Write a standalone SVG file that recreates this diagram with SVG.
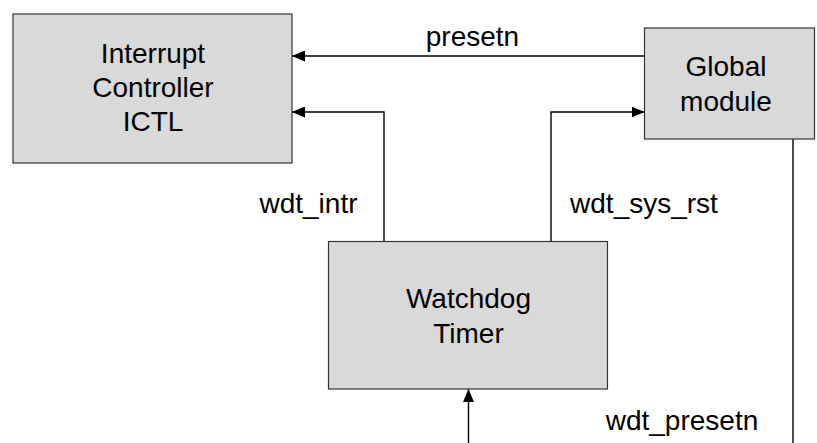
<svg xmlns="http://www.w3.org/2000/svg" width="817" height="443" viewBox="0 0 817 443">
  <defs>
    <marker id="arrow" viewBox="0 0 13 11" refX="13" refY="5.5" markerWidth="13" markerHeight="11" markerUnits="userSpaceOnUse" orient="auto">
      <path d="M0,0 L13,5.5 L0,11 Z" fill="#000"/>
    </marker>
    <style>
      .box { fill: #d9d9d9; stroke: #333; stroke-width: 1.2; }
      .lbl { font-family: "Liberation Sans", Arial, sans-serif; font-size: 28px; fill: #000; text-anchor: middle; }
      .edge { fill: none; stroke: #000; stroke-width: 1.4; }
    </style>
  </defs>
  <rect width="817" height="443" fill="#fff"/>

  <g id="connectors">
    <path class="edge" d="M644.5,56 H292" marker-end="url(#arrow)"/>
    <path class="edge" d="M384,241.5 V112 H292" marker-end="url(#arrow)"/>
    <path class="edge" d="M551,241.5 V112 H644.5" marker-end="url(#arrow)"/>
    <path class="edge" d="M793,139 V443"/>
    <path class="edge" d="M468.5,443 V389" marker-end="url(#arrow)"/>
    <text class="lbl" x="472.5" y="46">presetn</text>
    <text class="lbl" x="308.5" y="213">wdt_intr</text>
    <text class="lbl" x="644" y="213">wdt_sys_rst</text>
    <text class="lbl" x="682" y="430">wdt_presetn</text>
  </g>

  <g id="ictl">
    <rect class="box" x="13" y="14" width="279" height="149"/>
    <text class="lbl" x="153" y="63">Interrupt</text>
    <text class="lbl" x="153" y="97">Controller</text>
    <text class="lbl" x="153" y="131">ICTL</text>
  </g>

  <g id="global">
    <rect class="box" x="644.5" y="28" width="170" height="111"/>
    <text class="lbl" x="726" y="76">Global</text>
    <text class="lbl" x="726" y="111">module</text>
  </g>

  <g id="watchdog">
    <rect class="box" x="328.5" y="241.5" width="279" height="147.5"/>
    <text class="lbl" x="468.5" y="308">Watchdog</text>
    <text class="lbl" x="468.5" y="342.5">Timer</text>
  </g>
</svg>
